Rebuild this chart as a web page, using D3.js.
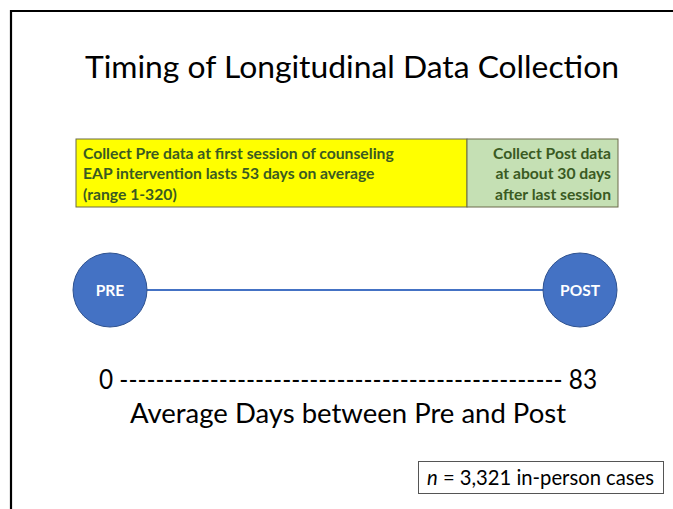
<!DOCTYPE html>
<html><head><meta charset="utf-8">
<script src="https://cdn.jsdelivr.net/npm/d3@7"></script>
<style>body{margin:0;background:#fff}svg{display:block}text{font-family:Lato,"Open Sans",sans-serif}</style>
</head><body><div id="c"></div>
<script>
const title = "Timing of Longitudinal Data Collection";
const phases = ["pre", "post"];
const phaseStart = [0, 53];
const phaseEnd = [53, 83];
const phaseFill = ["#ffff00", "#c5e0b4"];
const phaseText = [
  ["Collect Pre data at first session of counseling", "EAP intervention lasts 53 days on average", "(range 1-320)"],
  ["Collect Post data", "at about 30 days", "after last session"]
];
const points = ["PRE", "POST"];
const pointDays = [0, 83];
const axisLabels = ["0", "83"];
const axisTitle = "Average Days between Pre and Post";
const nLabel = "3,321 in-person cases";

const W = 673, H = 509;
const svg = d3.select("#c").append("svg").attr("width", W).attr("height", H);

// frame
svg.append("path").attr("d", `M11,${H} L11,11 L${W},11`).attr("fill","none").attr("stroke","#000").attr("stroke-width",2.2);

svg.append("text").attr("x", 352).attr("y", 78).attr("text-anchor","middle")
  .attr("font-size", 30).attr("fill","#000").attr("textLength", 534).attr("lengthAdjust","spacingAndGlyphs").text(title);

// phase boxes
const xBox = d3.scaleLinear().domain([0, 53, 83]).range([76, 467, 618]);
const boxTop = 139, boxH = 68;
phases.forEach((p, i) => {
  svg.append("rect").attr("x", xBox(phaseStart[i])).attr("y", boxTop)
    .attr("width", xBox(phaseEnd[i]) - xBox(phaseStart[i])).attr("height", boxH)
    .attr("fill", phaseFill[i]).attr("stroke", "#6b6b4a").attr("stroke-width", 1);
  phaseText[i].forEach((t, j) => {
    const tx = svg.append("text").attr("y", boxTop + 19.5 + j * 20.5)
      .attr("font-size", 15.7).attr("font-weight", "bold").attr("fill", "#3a5a22").text(t);
    if (i === 0) tx.attr("x", xBox(phaseStart[i]) + 7).attr("text-anchor", "start");
    else tx.attr("x", xBox(phaseEnd[i]) - 7).attr("text-anchor", "end");
  });
});

// timeline
const x = d3.scaleLinear().domain([0, 83]).range([110, 580]);
const cy = 290, r = 37;
svg.append("line").attr("x1", x(pointDays[0]) + r).attr("x2", x(pointDays[1]) - r)
  .attr("y1", cy).attr("y2", cy).attr("stroke", "#4472c4").attr("stroke-width", 2);
points.forEach((p, i) => {
  svg.append("ellipse").attr("cx", x(pointDays[i])).attr("cy", cy).attr("rx", r).attr("ry", 37)
    .attr("fill", "#4472c4").attr("stroke", "#2f528f").attr("stroke-width", 1);
  svg.append("text").attr("x", x(pointDays[i])).attr("y", cy + 5.5).attr("text-anchor", "middle")
    .attr("font-size", 15.5).attr("font-weight", "bold").attr("fill", "#fff").text(p);
});

// axis row
svg.append("text").attr("x", 99).attr("y", 389).attr("font-size", 26).attr("fill", "#000")
  .attr("textLength", 498).attr("lengthAdjust", "spacingAndGlyphs")
  .text(axisLabels[0] + " " + "-".repeat(49) + " " + axisLabels[1]);
svg.append("text").attr("x", 348).attr("y", 423).attr("text-anchor", "middle").attr("font-size", 26).attr("fill", "#000")
  .attr("textLength", 436).attr("lengthAdjust", "spacingAndGlyphs").text(axisTitle);

// n box
svg.append("rect").attr("x", 418.5).attr("y", 461.5).attr("width", 245).attr("height", 32)
  .attr("fill", "#fff").attr("stroke", "#555").attr("stroke-width", 1);
const nt = svg.append("text").attr("x", 427).attr("y", 484.5).attr("font-size", 21).attr("fill", "#000")
  .attr("textLength", 227).attr("lengthAdjust", "spacingAndGlyphs");
nt.append("tspan").attr("font-style", "italic").text("n");
nt.append("tspan").text(" = " + nLabel);
</script></body></html>
